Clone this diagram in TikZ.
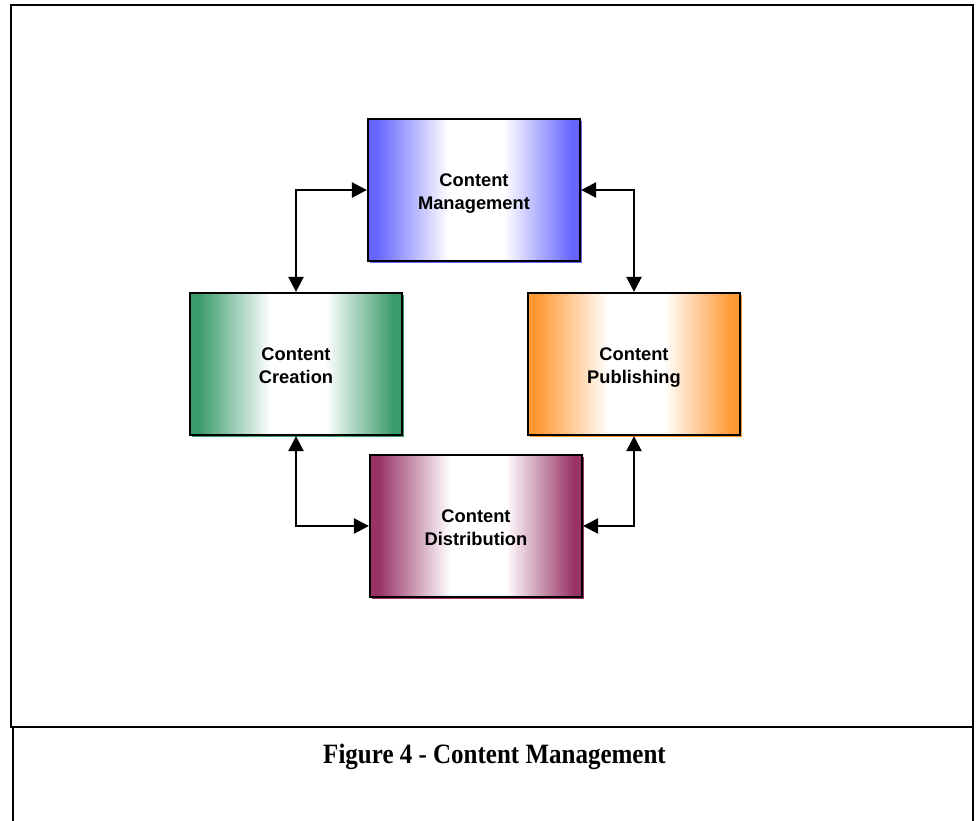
\documentclass[tikz,border=0pt]{standalone}
\usepackage{fontspec}
\setmainfont{Liberation Serif}
\newfontfamily\boxfont{Liberation Sans}
\usetikzlibrary{arrows.meta}
\definecolor{mgmtblue}{HTML}{6666FF}
\definecolor{creategreen}{HTML}{3A9A6A}
\definecolor{puborange}{HTML}{FF9933}
\definecolor{distmaroon}{HTML}{993366}
% edge-to-centre fade: solid colour at the sides, white in the middle
% (the node's width maps onto the 25bp--75bp band of the shading)
\newcommand\declarefade[2]{%
  \pgfdeclarehorizontalshading{#1}{100bp}{color(0bp)=(#2); color(27bp)=(#2);
    color(44bp)=(white); color(57bp)=(white); color(73bp)=(#2); color(100bp)=(#2)}}
\declarefade{fadeblue}{mgmtblue}
\declarefade{fadegreen}{creategreen}
\declarefade{fadeorange}{puborange}
\declarefade{fademaroon}{distmaroon}
% two centred lines, set a little below the box centre
\newcommand\twolines[2]{\raisebox{-3pt}[\height][\depth]{\begin{tabular}{@{}c@{}}#1\\#2\end{tabular}}}
\tikzset{
  stage/.style n args={2}{draw=black, line width=2.2pt, minimum width=212pt, minimum height=142pt,
    inner sep=0pt, font=\boxfont\bfseries\fontsize{18.3}{23}\selectfont,
    shading=#2,
    preaction={fill=#1, transform canvas={shift={(2pt,-2pt)}}}},
  link/.style={line width=2.4pt, {Triangle[length=15pt,width=15pt]}-{Triangle[length=15pt,width=15pt]}},
  frame/.style={line width=2pt, draw=black}
}
\begin{document}
\begin{tikzpicture}[x=1pt,y=-1pt]
  \useasboundingbox (0,0) rectangle (976,820);
  % outer frame and caption panel
  \draw[frame] (11,5) rectangle (973,727);
  \draw[frame] (13,727) -- (13,822);
  \draw[frame] (973,727) -- (973,822);
  % stages of the content cycle
  \node[stage={mgmtblue}{fadeblue}]      (cm) at (474,190) {\twolines{Content}{Management}};
  \node[stage={creategreen}{fadegreen}]  (cc) at (296,364) {\twolines{Content}{Creation}};
  \node[stage={puborange}{fadeorange}]   (cp) at (634,364) {\twolines{Content}{Publishing}};
  \node[stage={distmaroon}{fademaroon}]  (cd) at (476,526) {\twolines{Content}{Distribution}};
  % two-way links
  \draw[link] (cm.west) -| (cc.north);
  \draw[link] (cm.east) -| (cp.north);
  \draw[link] (cc.south) |- (cd.west);
  \draw[link] (cp.south) |- (cd.east);
  % caption
  \node[font=\bfseries\fontsize{25}{28}\selectfont] (cap) at (494.5,757) {\scalebox{1}[1.12]{Figure 4 - Content Management}};
\end{tikzpicture}
\end{document}
